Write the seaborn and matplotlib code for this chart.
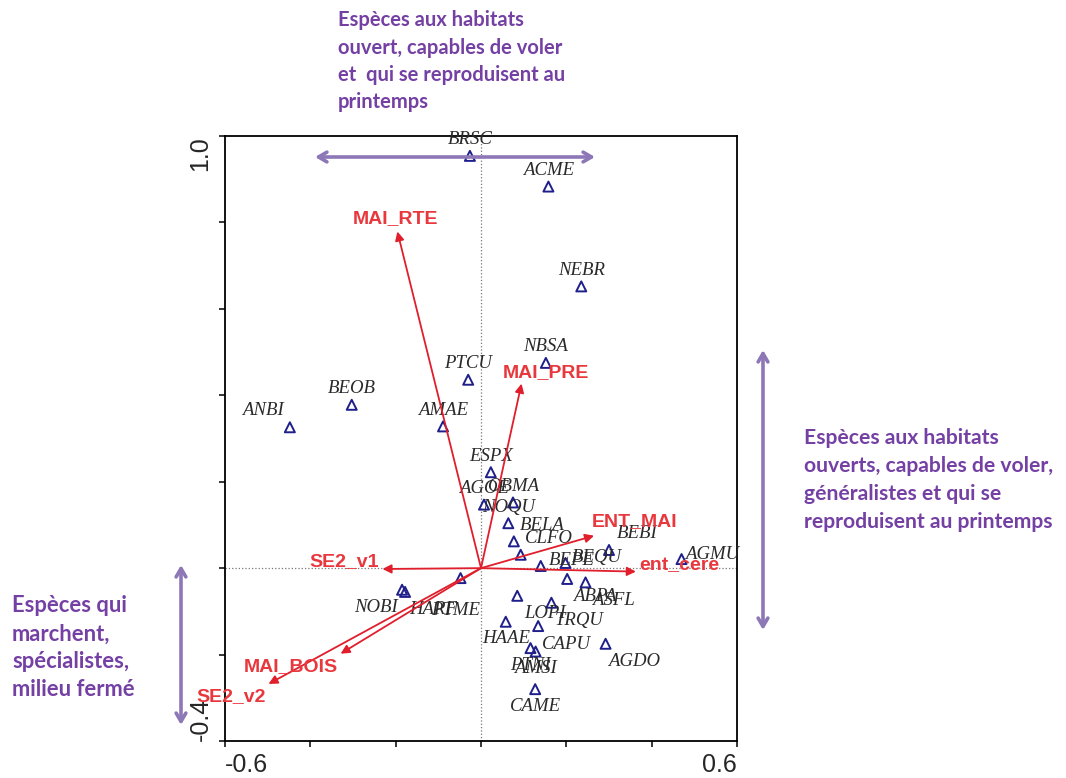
import matplotlib
matplotlib.use("Agg")
import matplotlib.pyplot as plt
import seaborn as sns
import pandas as pd

# species scores (RDA axis 1 / axis 2)
species = ["BRSC", "ACME", "NEBR", "NBSA", "PTCU", "BEOB", "ANBI", "AMAE",
           "ESPX", "AGOE", "OBMA", "NOQU", "BELA", "CLFO", "BEPE", "BEQU",
           "BEBI", "AGMU", "PTME", "HARF", "NOBI", "LOPI", "TRQU", "HAAE",
           "CAPU", "ABPA", "ASFL", "AGDO", "PTNI", "AMSI", "CAME"]
sp_x = [-0.026, 0.158, 0.235, 0.152, -0.030, -0.303, -0.448, -0.089,
        0.023, 0.007, 0.075, 0.064, 0.077, 0.093, 0.140, 0.198,
        0.300, 0.470, -0.048, -0.178, -0.185, 0.085, 0.165, 0.058,
        0.134, 0.202, 0.245, 0.292, 0.116, 0.128, 0.127]
sp_y = [0.954, 0.883, 0.652, 0.475, 0.436, 0.378, 0.326, 0.328,
        0.222, 0.147, 0.152, 0.104, 0.062, 0.031, 0.005, 0.012,
        0.042, 0.021, -0.023, -0.055, -0.050, -0.064, -0.080, -0.124,
        -0.134, -0.025, -0.033, -0.175, -0.185, -0.193, -0.280]
# where each species label sits around its point
sp_pos = ["n", "n", "n", "n", "n", "n", "nw", "n",
          "n", "n", "n", "n", "ne", "ne", "e", "e",
          "ne", "e", "s2", "se", "sw", "se", "se", "s",
          "se", "se", "se", "se", "s", "s", "s"]

# environmental vectors
env = ["MAI_RTE", "MAI_PRE", "ENT_MAI", "ent_cere", "SE2_v1", "MAI_BOIS", "SE2_v2"]
env_x = [-0.196, 0.095, 0.265, 0.363, -0.231, -0.329, -0.498]
env_y = [0.779, 0.427, 0.075, -0.008, -0.002, -0.198, -0.268]

df = pd.DataFrame({"species": species, "RDA1": sp_x, "RDA2": sp_y})

sns.set_style("ticks")
plt.rcParams["font.family"] = ["Liberation Sans", "DejaVu Sans"]

W, H = 1066, 778
fig = plt.figure(figsize=(W / 100, H / 100), dpi=100)
ax = fig.add_axes([225 / W, 1 - 741 / H, 512 / W, 605 / H])

ax.axhline(0, color="#777777", ls=":", lw=0.9, zorder=1)
ax.axvline(0, color="#777777", ls=":", lw=0.9, zorder=1)

sns.scatterplot(data=df, x="RDA1", y="RDA2", marker="^", s=52,
                facecolor="none", edgecolor="#1f1f8c", linewidth=1.4,
                ax=ax, zorder=3, legend=False)

offsets = {"n": (0, 16), "s": (0, -17), "ne": (28, 16), "se": (28, -18),
           "e": (31, 5), "sw": (-26, -18), "nw": (-27, 17), "s2": (-5, -32)}
for name, x, y, p in zip(species, sp_x, sp_y, sp_pos):
    ax.annotate(name, (x, y), xytext=offsets[p], textcoords="offset pixels",
                ha="center", va="center", fontsize=13.5, style="italic",
                family=["Liberation Serif", "DejaVu Serif"], color="#2a2a2a",
                zorder=4, annotation_clip=False)

env_off = {"MAI_RTE": (-2, 13), "MAI_PRE": (24, 11), "ENT_MAI": (40, 14),
           "ent_cere": (43, 6), "SE2_v1": (-38, 7), "MAI_BOIS": (-50, -13),
           "SE2_v2": (-37, -13)}
for name, x, y in zip(env, env_x, env_y):
    ax.annotate("", xy=(x, y), xytext=(0, 0),
                arrowprops=dict(arrowstyle="-|>", color="#e01e2c", lw=1.3,
                                mutation_scale=13, shrinkA=0, shrinkB=0),
                zorder=5)
    ax.annotate(name, (x, y), xytext=env_off[name], textcoords="offset pixels",
                ha="center", va="center", fontsize=14, weight="bold",
                color="#e8383d", zorder=6, annotation_clip=False)

ax.set_xlim(-0.6, 0.6)
ax.set_ylim(-0.4, 1.0)
ax.set_xticks([-0.6, -0.4, -0.2, 0, 0.2, 0.4, 0.6])
ax.set_yticks([-0.4, -0.2, 0, 0.2, 0.4, 0.6, 0.8, 1.0])
ax.set_xticklabels(["-0.6", "", "", "", "", "", "0.6"])
ax.set_yticklabels(["-0.4", "", "", "", "", "", "", "1.0"], rotation=90)
ax.tick_params(direction="out", length=4, width=1.1, labelsize=18, pad=5, color="black")
xl = ax.get_xticklabels()
xl[0].set_ha("left")
xl[-1].set_ha("right")
yl = ax.get_yticklabels()
yl[0].set_va("bottom")
yl[-1].set_va("top")
ax.set_xlabel("")
ax.set_ylabel("")
for s in ax.spines.values():
    s.set_visible(True)
    s.set_linewidth(1.3)
    s.set_color("black")

# purple interpretation notes
purple = "#7440a4"
lav = "#8d77b6"
arrows = [((315, 157), (595, 157)), ((763, 350), (763, 630)), ((181, 565), (181, 725))]
for (x0, y0), (x1, y1) in arrows:
    ax.annotate("", xy=(x1, H - y1), xytext=(x0, H - y0), xycoords="figure pixels",
                textcoords="figure pixels",
                arrowprops=dict(arrowstyle="<->,head_length=0.6,head_width=0.35",
                                color=lav, lw=2.6, shrinkA=0, shrinkB=0))

notes = [
    (338, 20, 27.5, 14.5, ["Espèces aux habitats", "ouvert, capables de voler",
                           "et  qui se reproduisent au", "printemps"]),
    (804, 438, 28, 15.2, ["Espèces aux habitats", "ouverts, capables de voler,",
                          "généralistes et qui se", "reproduisent au printemps"]),
    (12, 606, 28, 15.8, ["Espèces qui", "marchent,", "spécialistes,", "milieu fermé"]),
]
for x0, y0, step, size, lines in notes:
    for i, line in enumerate(lines):
        fig.text(x0 / W, 1 - (y0 + i * step) / H, line, ha="left", va="center",
                 fontsize=size, weight="bold", color=purple,
                 family=["Lato", "DejaVu Sans"])

fig.savefig("out.png", dpi=100)
